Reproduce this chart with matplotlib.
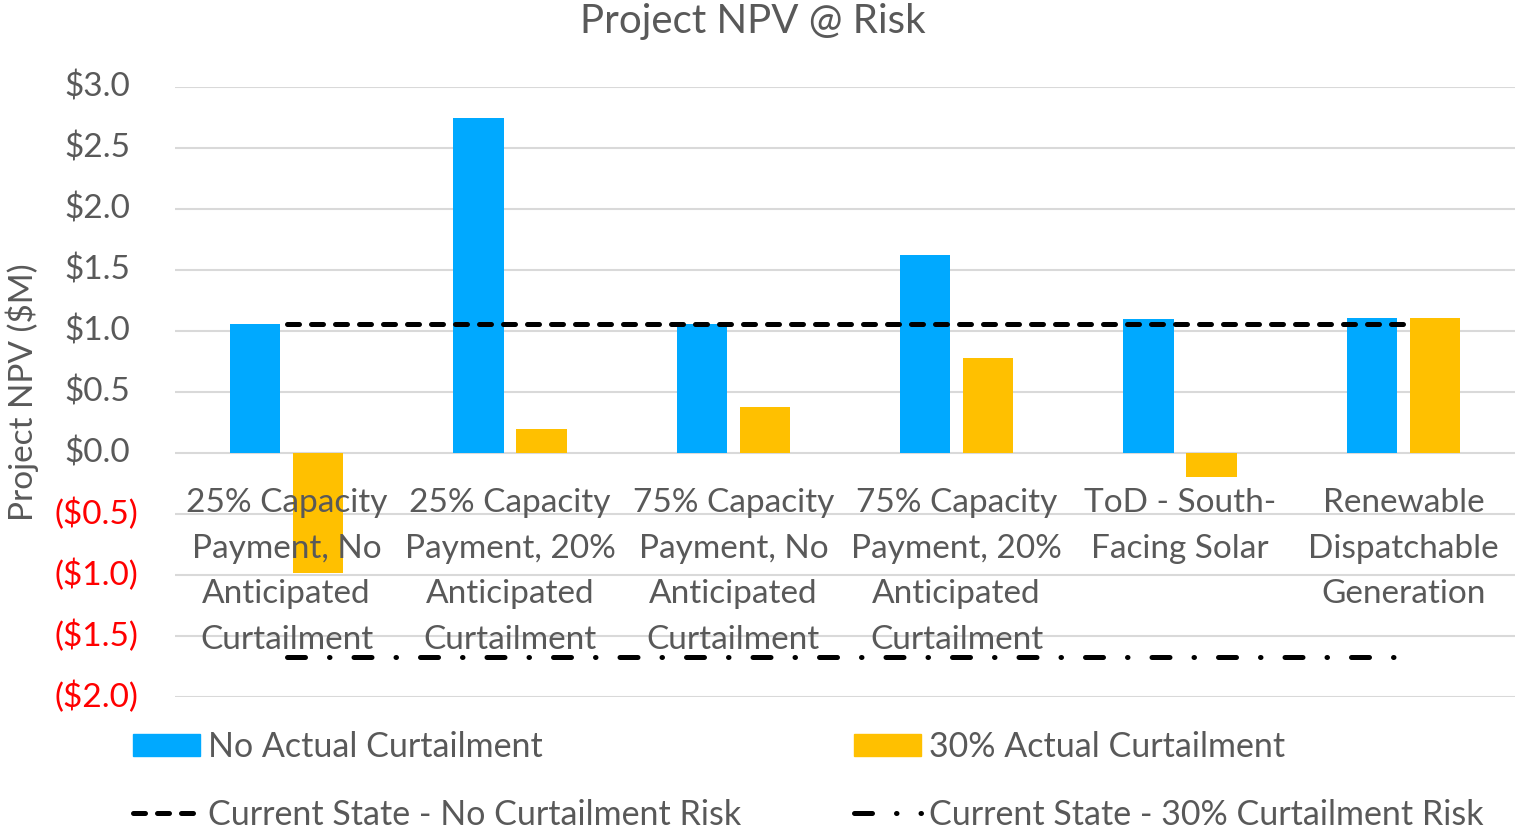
import numpy as np
import matplotlib.pyplot as plt
from matplotlib.patches import Patch
from matplotlib.lines import Line2D
import matplotlib.transforms as mtransforms

plt.rcParams['font.family'] = ['Lato', 'DejaVu Sans']

categories = ['25% Capacity\nPayment, No\nAnticipated\nCurtailment',
              '25% Capacity\nPayment, 20%\nAnticipated\nCurtailment',
              '75% Capacity\nPayment, No\nAnticipated\nCurtailment',
              '75% Capacity\nPayment, 20%\nAnticipated\nCurtailment',
              'ToD - South-\nFacing Solar',
              'Renewable\nDispatchable\nGeneration']
no_curt = [1.06, 2.75, 1.06, 1.62, 1.10, 1.11]
curt_30 = [-0.98, 0.20, 0.38, 0.78, -0.20, 1.11]
current_no_risk = 1.06
current_30_risk = -1.67
yticks = [3.0, 2.5, 2.0, 1.5, 1.0, 0.5, 0.0, -0.5, -1.0, -1.5, -2.0]

gray = '#595959'
blue = '#00A9FF'
gold = '#FFC000'

fig = plt.figure(figsize=(15.18, 8.36), dpi=100)
ax = fig.add_axes([175/1518, 1-697/836, (1515-175)/1518, (697-87)/836])

# gridlines under the bars, category labels above them
for v in yticks:
    ax.axhline(v, color='#d9d9d9', lw=1.5, zorder=1)

x = np.arange(len(categories))
w = 0.224
ax.bar(x - 0.141, no_curt, w, color=blue, zorder=2)
ax.bar(x + 0.141, curt_30, w, color=gold, zorder=2)

ax.plot([x[0], x[-1]], [current_no_risk]*2, color='black', lw=3.6,
        linestyle=(0, (2.4, 2.4)), dash_capstyle='round', zorder=4)
ax.plot([x[0], x[-1]], [current_30_risk]*2, color='black', lw=3.6,
        linestyle=(0, (3.6, 4.8, 0.1, 4.8)), dash_capstyle='round', zorder=4)

ax.set_xlim(-0.5, len(categories) - 0.5)
ax.set_ylim(-2.0, 3.0)
ax.set_yticks(yticks)
ax.set_axisbelow(False)
for s in ax.spines.values():
    s.set_visible(False)
ax.spines['bottom'].set_position(('data', 0))
ax.set_xticks(x)
ax.set_xticklabels(categories, fontsize=24, color=gray, linespacing=1.66)
ax.tick_params(axis='x', length=0, pad=25)
ax.tick_params(axis='y', length=0, labelleft=False)

# y tick labels, red for negatives like Excel
trans = mtransforms.blended_transform_factory(ax.transAxes, ax.transData)
for v in yticks:
    if v >= 0:
        lab, col, off = '${:.1f}'.format(v), gray, -45
    else:
        lab, col, off = '(${:.1f})'.format(-v), 'red', -37
    ax.text(0, v, lab, transform=trans + mtransforms.ScaledTranslation(off/100, 0, fig.dpi_scale_trans),
            ha='right', va='center', fontsize=24, color=col)

ax.set_ylabel('Project NPV ($M)', fontsize=24, color=gray, labelpad=98)
fig.text(753/1518, 1-22/836, 'Project NPV @ Risk', ha='center', va='center', fontsize=29, color=gray)

handles = [Patch(color=blue, label='No Actual Curtailment'),
           Line2D([], [], color='black', lw=3.6, linestyle=(0, (2.4, 2.4)), dash_capstyle='round',
                  label='Current State - No Curtailment Risk'),
           Patch(color=gold, label='30% Actual Curtailment'),
           Line2D([], [], color='black', lw=3.6, linestyle=(0, (3.6, 4.8, 0.1, 4.8)), dash_capstyle='round',
                  label='Current State - 30% Curtailment Risk')]
fig.legend(handles=handles, ncol=2, loc='upper left', bbox_to_anchor=(133/1518, 1-731/836),
           frameon=False, fontsize=24.5, labelcolor=gray, handlelength=1.97, handleheight=0.6,
           handletextpad=0.24, columnspacing=3.3, labelspacing=1.05, borderpad=0, borderaxespad=0)

fig.savefig('out.png', dpi=100)
